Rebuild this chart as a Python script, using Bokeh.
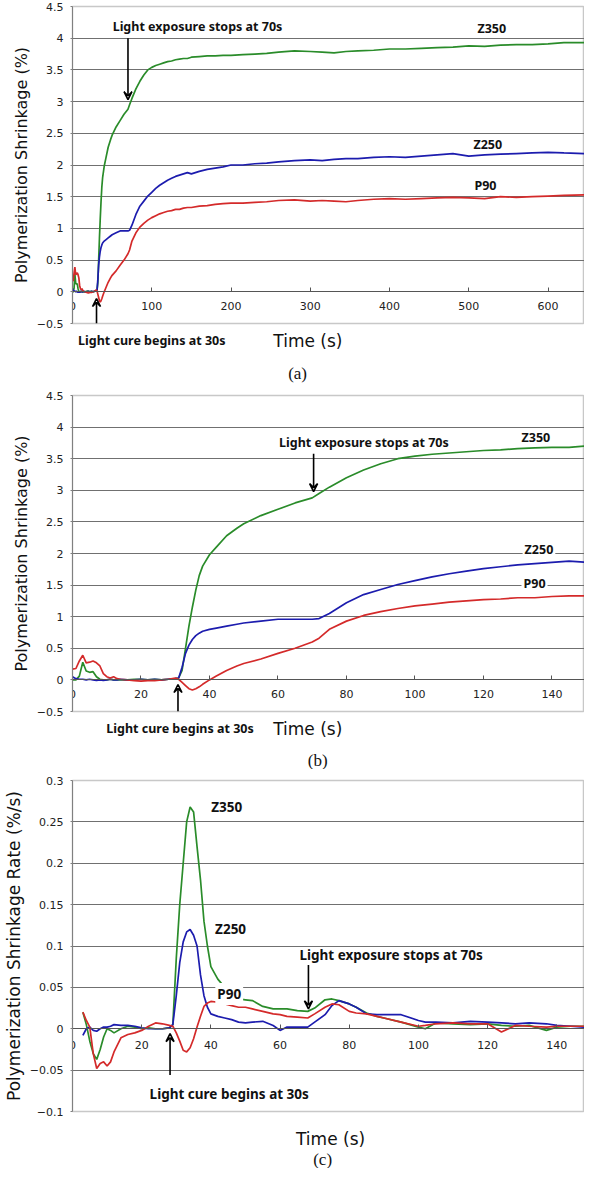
from bokeh.plotting import figure
from bokeh.models import Range1d, FixedTicker, Label, Arrow, VeeHead, CustomJSTickFormatter
from bokeh.layouts import column
from bokeh.embed import file_html
from bokeh.resources import INLINE

# ---------------- data: polymerization shrinkage (%) vs time (s) ----------------
time_s = [0, 1, 2, 3, 4, 5, 6, 7, 8, 9, 10, 11, 12, 13, 14, 16, 18, 20, 22, 24, 26, 28, 30,
          31, 32, 33, 34, 35, 36, 37, 38, 40, 42, 45, 48, 50, 55, 60, 65, 70, 72, 75,
          80, 85, 90, 95, 100, 105, 110, 115, 120, 125, 130, 135, 140, 145, 150,
          160, 170, 180, 190, 200, 215, 230, 245, 260, 280, 300, 315, 330, 345, 360, 380, 400,
          420, 440, 460, 480, 500, 520, 540, 560, 580, 600, 620, 646]
z350_shrink = [0.0, 0.0, 0.06, 0.28, 0.14, 0.12, 0.13, 0.05, 0.01, 0.0, 0.0, 0.01, 0.0, 0.0, 0.0,
               0.0, 0.01, 0.01, 0.0, 0.01, 0.0, 0.01, 0.02,
               0.03, 0.15, 0.5, 0.85, 1.15, 1.42, 1.65, 1.8, 1.98, 2.1, 2.28, 2.4, 2.47, 2.6, 2.7,
               2.8, 2.88, 2.95, 3.05,
               3.2, 3.32, 3.42, 3.5, 3.54, 3.57, 3.59, 3.61, 3.63, 3.64, 3.66, 3.67, 3.68, 3.68, 3.7,
               3.71, 3.72, 3.72, 3.73, 3.73, 3.74, 3.75, 3.76, 3.78, 3.8, 3.79, 3.78, 3.77, 3.79,
               3.8, 3.81, 3.83,
               3.83, 3.84, 3.85, 3.86, 3.88, 3.87, 3.89, 3.9, 3.9, 3.91, 3.93, 3.93]
z250_shrink = [0.05, 0.02, 0.01, 0.01, 0.0, 0.01, 0.0, -0.01, 0.0, -0.01, 0.0, 0.01, 0.0, 0.0, 0.01,
               0.0, 0.0, 0.01, 0.0, 0.01, 0.0, 0.01, 0.02,
               0.03, 0.2, 0.42, 0.55, 0.64, 0.7, 0.74, 0.77, 0.8, 0.82, 0.85, 0.88, 0.9, 0.93, 0.96,
               0.96, 0.96, 0.97, 1.05,
               1.22, 1.35, 1.43, 1.51, 1.57, 1.63, 1.68, 1.72, 1.76, 1.79, 1.82, 1.84, 1.86, 1.88, 1.86,
               1.9, 1.93, 1.95, 1.97, 2.0, 2.0, 2.02, 2.03, 2.05, 2.07, 2.08, 2.07, 2.09, 2.1,
               2.1, 2.12, 2.13,
               2.12, 2.14, 2.16, 2.18, 2.14, 2.16, 2.17, 2.18, 2.19, 2.2, 2.19, 2.18]
p90_shrink = [0.17, 0.18, 0.3, 0.39, 0.27, 0.28, 0.3, 0.27, 0.22, 0.1, 0.05, 0.03, 0.05, 0.02, 0.01,
              0.0, -0.01, -0.02, -0.01, -0.01, 0.0, 0.01, 0.03,
              0.01, -0.04, -0.09, -0.14, -0.16, -0.14, -0.11, -0.07, 0.0, 0.06, 0.15, 0.22, 0.26,
              0.33, 0.42, 0.5, 0.6, 0.66, 0.8,
              0.93, 1.02, 1.08, 1.13, 1.17, 1.2, 1.23, 1.25, 1.27, 1.28, 1.3, 1.3, 1.32, 1.33, 1.33,
              1.35, 1.36, 1.38, 1.39, 1.4, 1.4, 1.41, 1.42, 1.44, 1.45, 1.43, 1.44, 1.43, 1.42,
              1.44, 1.46, 1.47,
              1.46, 1.47, 1.48, 1.49, 1.48, 1.47, 1.5, 1.49, 1.5, 1.51, 1.52, 1.53]

# ---------------- data: shrinkage rate (%/s) vs time (s) ----------------
time_rate = [3, 4, 5, 6, 7, 8, 9, 10, 11, 12, 14, 16, 18, 20, 22, 24, 26, 28, 29, 30, 31, 32, 33,
             34, 35, 36, 37, 38, 39, 40, 42, 44, 46, 48, 50, 52, 55, 58, 60, 62, 65, 68, 70, 73,
             75, 77, 80, 82, 85, 88, 90, 95, 100, 102, 105, 110, 115, 120, 124, 128, 132, 137,
             140, 144, 148]
z350_rate = [0.02, 0.005, -0.015, -0.03, -0.037, -0.025, -0.01, 0.0, -0.002, -0.005, 0.0, 0.003,
             0.002, 0.0, 0.001, 0.0, 0.0, 0.001, 0.005, 0.085, 0.15, 0.2, 0.25,
             0.268, 0.262, 0.22, 0.18, 0.13, 0.1, 0.075, 0.06, 0.05, 0.04, 0.036, 0.035, 0.034,
             0.027, 0.024, 0.024, 0.024, 0.022, 0.021, 0.025, 0.035,
             0.036, 0.034, 0.03, 0.026, 0.019, 0.015, 0.013, 0.008, 0.002, 0.0, 0.007, 0.006,
             0.005, 0.006, 0.004, 0.003, 0.004, -0.002, 0.002, 0.003, 0.003]
z250_rate = [-0.008, 0.0, 0.002, -0.002, -0.003, 0.0, 0.002, 0.002, 0.003, 0.005, 0.004, 0.004,
             0.003, 0.001, 0.0, 0.0, 0.0, 0.001, 0.005, 0.04, 0.08, 0.105, 0.117,
             0.12, 0.113, 0.1, 0.065, 0.04, 0.026, 0.018, 0.015, 0.013, 0.011, 0.008, 0.007, 0.008,
             0.009, 0.004, -0.002, 0.002, 0.002, 0.002, 0.008, 0.017,
             0.028, 0.034, 0.03, 0.026, 0.018, 0.017, 0.017, 0.017, 0.01, 0.008, 0.008, 0.007,
             0.009, 0.008, 0.007, 0.006, 0.007, 0.006, 0.004, 0.003, 0.002]
p90_rate = [0.02, 0.01, 0.002, -0.03, -0.048, -0.042, -0.04, -0.045, -0.04, -0.028, -0.011, -0.007,
            -0.005, -0.002, 0.003, 0.007, 0.006, 0.004, 0.003, -0.005, -0.015, -0.026, -0.028,
            -0.023, -0.012, 0.002, 0.015, 0.027, 0.031, 0.033, 0.032, 0.03, 0.028, 0.026, 0.026,
            0.024, 0.021, 0.018, 0.017, 0.015, 0.014, 0.013, 0.018, 0.026,
            0.03, 0.029, 0.021, 0.019, 0.018, 0.015, 0.013, 0.008, 0.003, 0.004, 0.006, 0.007,
            0.006, 0.006, -0.004, 0.004, 0.003, 0.002, 0.003, 0.003, 0.003]

# ---------------- ticks ----------------
shrink_y_ticks = [-0.5, 0, 0.5, 1, 1.5, 2, 2.5, 3, 3.5, 4, 4.5]
rate_y_ticks = [-0.1, -0.05, 0, 0.05, 0.1, 0.15, 0.2, 0.25, 0.3]
long_x_ticks = [0, 100, 200, 300, 400, 500, 600]
short_x_ticks = [0, 20, 40, 60, 80, 100, 120, 140]

GREEN = "#2a8c2a"
BLUE = "#1c1cae"
RED = "#d42a2a"
GRID = "#707070"
TICK_FONT = "DejaVu Sans"
ANN_FONT = "Noto Sans"

fmt = CustomJSTickFormatter(code="return tick < 0 ? '\u2212' + String(-tick) : String(tick);")


def make_panel(height, b_top, x_range, y_lo, y_hi, y_ticks, x_ticks, ylabel, ylabel_size,
               x_standoff):
    p = figure(width=584, height=height, output_backend="svg", toolbar_location=None,
               x_range=x_range, y_range=Range1d(y_lo, y_hi),
               min_border_left=66, min_border_right=0, min_border_top=b_top,
               min_border_bottom=8)
    p.background_fill_color = "white"
    p.border_fill_color = "white"
    p.outline_line_color = "#c8c8c8"
    p.outline_line_width = 1.5
    p.xgrid.visible = False
    p.ygrid.ticker = FixedTicker(ticks=y_ticks[1:-1])
    p.ygrid.grid_line_color = GRID
    p.ygrid.grid_line_width = 1

    ya = p.yaxis[0]
    ya.ticker = FixedTicker(ticks=y_ticks)
    ya.formatter = fmt
    ya.axis_line_color = "#808080"
    ya.major_tick_line_color = "#808080"
    ya.major_tick_out = 2
    ya.major_tick_in = 0
    ya.minor_tick_line_color = None
    ya.major_label_standoff = 7
    ya.major_label_text_font = TICK_FONT
    ya.major_label_text_font_size = "11px"
    ya.major_label_text_color = "#222222"
    ya.axis_label = ylabel
    ya.axis_label_text_font = TICK_FONT
    ya.axis_label_text_font_style = "normal"
    ya.axis_label_text_font_size = ylabel_size
    ya.axis_label_text_color = "#111111"
    ya.axis_label_standoff = 3

    xa = p.xaxis[0]
    xa.fixed_location = 0
    xa.ticker = FixedTicker(ticks=x_ticks)
    xa.formatter = fmt
    xa.axis_line_color = "#555555"
    xa.axis_line_width = 1.2
    xa.major_tick_line_color = "#555555"
    xa.major_tick_in = 4
    xa.major_tick_out = 0
    xa.minor_tick_line_color = None
    xa.major_label_standoff = x_standoff
    xa.major_label_text_font = TICK_FONT
    xa.major_label_text_font_size = "11px"
    xa.major_label_text_color = "#222222"
    return p


def make_caption_strip(height, x_range):
    # a strip under a panel, sharing its x scale; its y scale is pixels from the strip top
    s = figure(width=584, height=height, output_backend="svg", toolbar_location=None,
               x_range=x_range, y_range=Range1d(height, 0),
               x_axis_type=None, y_axis_type=None,
               min_border_left=66, min_border_right=0, min_border_top=0, min_border_bottom=0)
    s.outline_line_color = None
    s.xgrid.visible = False
    s.ygrid.visible = False
    s.background_fill_color = "white"
    s.border_fill_color = "white"
    return s


def add_text(p, x, y, text, size, bold=True, font=ANN_FONT, bg=None):
    lab = Label(x=x, y=y, text=text, text_align="center", text_baseline="middle",
                text_font=font, text_font_size=size,
                text_font_style="bold" if bold else "normal", text_color="#111111")
    if bg:
        lab.background_fill_color = bg
        lab.padding = 2
    p.add_layout(lab)


def add_arrow(p, x, y0, y1):
    p.add_layout(Arrow(x_start=x, y_start=y0, x_end=x, y_end=y1, line_color="black",
                       line_width=1.6,
                       end=VeeHead(size=8, line_color="black", line_width=1.6,
                                   fill_color=None)))


# ---------------- panel (a) ----------------
xr_a = Range1d(0, 646)
pa = make_panel(331, 6, xr_a, -0.5, 4.5, shrink_y_ticks, long_x_ticks,
                "Polymerization Shrinkage (%)", "16px", 10)
pa.line(time_s, z350_shrink, line_color=GREEN, line_width=1.7)
pa.line(time_s, z250_shrink, line_color=BLUE, line_width=1.7)
pa.line(time_s, p90_shrink, line_color=RED, line_width=1.7)
add_text(pa, 529, 4.15, "Z350", "12.5px")
add_text(pa, 524, 2.32, "Z250", "12.5px")
add_text(pa, 521, 1.67, "P90", "12.5px")
add_text(pa, 157.7, 4.185, "Light exposure stops at 70s", "12.5px")
add_arrow(pa, 70, 4.0, 3.03)
add_arrow(pa, 30.3, -0.5, -0.106)

ca = make_caption_strip(53, xr_a)
add_text(ca, 100, 9, "Light cure begins at 30s", "12.5px")
add_text(ca, 297, 9, "Time (s)", "17px", bold=False, font=TICK_FONT)
add_text(ca, 284, 42, "(a)", "17px", bold=False, font="Liberation Serif")

# ---------------- panel (b) ----------------
xr_b = Range1d(0, 149.5)
pb = make_panel(335, 11, xr_b, -0.5, 4.5, shrink_y_ticks, short_x_ticks,
                "Polymerization Shrinkage (%)", "16px", 10)
pb.line(time_s, z350_shrink, line_color=GREEN, line_width=1.7)
pb.line(time_s, z250_shrink, line_color=BLUE, line_width=1.7)
pb.line(time_s, p90_shrink, line_color=RED, line_width=1.7)
add_text(pb, 135.3, 3.84, "Z350", "12.5px")
add_text(pb, 136.2, 2.07, "Z250", "12.5px", bg="white")
add_text(pb, 134.9, 1.52, "P90", "12.5px", bg="white")
add_text(pb, 85.1, 3.756, "Light exposure stops at 70s", "12.5px")
add_arrow(pb, 70.4, 3.58, 2.98)
add_arrow(pb, 30.8, -0.5, -0.073)

cb = make_caption_strip(50, xr_b)
add_text(cb, 31.4, 9, "Light cure begins at 30s", "12.5px")
add_text(cb, 68.7, 9, "Time (s)", "17px", bold=False, font=TICK_FONT)
add_text(cb, 71.6, 41, "(b)", "17px", bold=False, font="Liberation Serif")

# ---------------- panel (c) ----------------
xr_c = Range1d(0, 148)
pc = make_panel(350, 11, xr_c, -0.1, 0.3, rate_y_ticks, short_x_ticks,
                "Polymerization Shrinkage Rate (%/s)", "17px", 12)
pc.line(time_rate, z350_rate, line_color=GREEN, line_width=1.7)
pc.line(time_rate, z250_rate, line_color=BLUE, line_width=1.7)
pc.line(time_rate, p90_rate, line_color=RED, line_width=1.7)
add_text(pc, 44.6, 0.268, "Z350", "13.5px")
add_text(pc, 45.7, 0.12, "Z250", "13.5px")
add_text(pc, 45.3, 0.042, "P90", "13.5px", bg="white")
add_text(pc, 92.1, 0.089, "Light exposure stops at 70s", "13.5px")
add_arrow(pc, 68.2, 0.077, 0.024)
add_text(pc, 45.3, -0.0785, "Light cure begins at 30s", "13.5px")
add_arrow(pc, 28.2, -0.056, -0.006)

cc = make_caption_strip(49, xr_c)
add_text(cc, 74.6, 19, "Time (s)", "17px", bold=False, font=TICK_FONT)
add_text(cc, 72.3, 40, "(c)", "17px", bold=False, font="Liberation Serif")

layout = column(pa, ca, pb, cb, pc, cc)
open("out.html", "w").write(file_html(layout, INLINE))
